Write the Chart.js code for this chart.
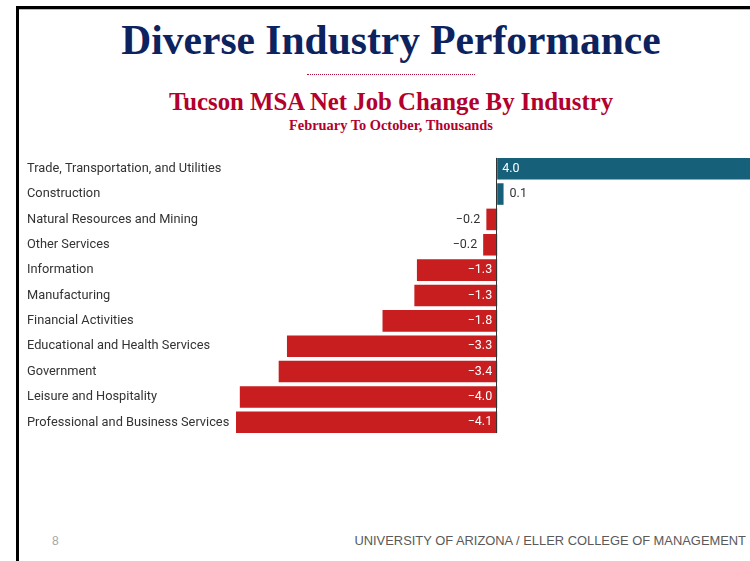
<!DOCTYPE html>
<html lang="en">
<head>
  <meta charset="UTF-8">
  <title>Diverse Industry Performance</title>
  <script src="https://cdn.jsdelivr.net/npm/chart.js"></script>
  <style>
    html, body { margin: 0; padding: 0; background: #fff; }
    body { width: 750px; height: 561px; overflow: hidden; position: relative; }
    .frame { position: absolute; left: 16px; top: 6px; width: 800px; height: 600px;
             border-left: 3px solid #000; border-top: 3px solid #000; }
    .frame-shadow { position: absolute; left: 19px; top: 9px; width: 800px; height: 1px; background: #bbb; }
    .center { position: absolute; left: 0; width: 782px; text-align: center; white-space: nowrap;
              font-family: "Liberation Serif", "Times New Roman", serif; font-weight: bold; }
    #title { top: 18px; font-size: 41.5px; line-height: 44px; color: #0d2360; }
    #dots { position: absolute; left: 307px; top: 74px; width: 168px; height: 0;
            border-top: 1px dotted #b0103a; }
    #subtitle { top: 88px; font-size: 24.8px; line-height: 28px; color: #b3002d; }
    #subsub { top: 117px; font-size: 14.4px; line-height: 16px; color: #b3002d; }
    #myChart { position: absolute; left: 0; top: 150px; }
    .foot { position: absolute; top: 533px; font-family: "Liberation Sans", Arial, sans-serif; line-height: 16px; }
    #page { left: 52px; font-size: 12px; color: #a6a6a6; }
    #org { right: 4px; font-size: 12.9px; color: #595959; }
  </style>
</head>
<body>
  <div class="frame"></div>
  <div class="frame-shadow"></div>
  <div class="center" id="title">Diverse Industry Performance</div>
  <div id="dots"></div>
  <div class="center" id="subtitle">Tucson MSA Net Job Change By Industry</div>
  <div class="center" id="subsub">February To October, Thousands</div>
  <canvas id="myChart" width="752" height="290"></canvas>
  <div class="foot" id="page">8</div>
  <div class="foot" id="org">UNIVERSITY OF ARIZONA / ELLER COLLEGE OF MANAGEMENT</div>

  <script>
    const industries = [
      'Trade, Transportation, and Utilities',
      'Construction',
      'Natural Resources and Mining',
      'Other Services',
      'Information',
      'Manufacturing',
      'Financial Activities',
      'Educational and Health Services',
      'Government',
      'Leisure and Hospitality',
      'Professional and Business Services'
    ];
    const jobChange = [4.0, 0.1, -0.17, -0.22, -1.26, -1.3, -1.8, -3.3, -3.43, -4.04, -4.1];

    const BLUE = '#17607a';
    const RED = '#c81e1f';
    const fmt = (v) => (v < 0 ? '\u2212' : '') + Math.abs(v).toFixed(1);

    // zero line + value labels
    const labelPlugin = {
      id: 'barLabels',
      afterDatasetsDraw(chart) {
        const c = chart.ctx;
        const x0 = chart.scales.x.getPixelForValue(0);
        const bars = chart.getDatasetMeta(0).data;
        c.save();
        c.font = '12.5px Roboto';
        c.textBaseline = 'middle';
        bars.forEach((bar, i) => {
          const v = jobChange[i];
          const txt = fmt(v);
          const w = c.measureText(txt).width;
          const len = Math.abs(bar.x - x0);
          const inside = len > w + 10;
          if (v >= 0) {
            c.textAlign = 'left';
            c.fillStyle = inside ? '#fff' : '#333';
            c.fillText(txt, inside ? x0 + 5 : bar.x + 6, bar.y);
          } else {
            c.textAlign = 'right';
            c.fillStyle = inside ? '#fff' : '#333';
            c.fillText(txt, inside ? x0 - 5 : bar.x - 6, bar.y);
          }
        });
        const top = bars[0].y - bars[0].height / 2;
        const last = bars[bars.length - 1];
        c.strokeStyle = '#333';
        c.lineWidth = 1;
        c.beginPath();
        c.moveTo(Math.round(x0) - 0.5, top);
        c.lineTo(Math.round(x0) - 0.5, last.y + last.height / 2);
        c.stroke();
        c.restore();
      }
    };

    new Chart(document.getElementById('myChart'), {
      type: 'bar',
      data: {
        labels: industries,
        datasets: [{
          data: jobChange,
          backgroundColor: jobChange.map(v => v >= 0 ? BLUE : RED),
          barPercentage: 0.85,
          categoryPercentage: 1
        }]
      },
      options: {
        indexAxis: 'y',
        responsive: false,
        animation: false,
        layout: { padding: { left: 27, right: 0, top: 6, bottom: 5 } },
        plugins: { legend: { display: false }, tooltip: { enabled: false } },
        scales: {
          x: { display: false, min: -4.1, max: 4.0 },
          y: {
            grid: { display: false },
            border: { display: false },
            afterFit: (scale) => {
              scale.width = 209;
              scale.paddingTop = 0;
              scale.paddingBottom = 0;
            },
            ticks: {
              crossAlign: 'far',
              color: '#333',
              font: { family: 'Roboto', size: 12.8 }
            }
          }
        }
      },
      plugins: [labelPlugin]
    });
  </script>
</body>
</html>
